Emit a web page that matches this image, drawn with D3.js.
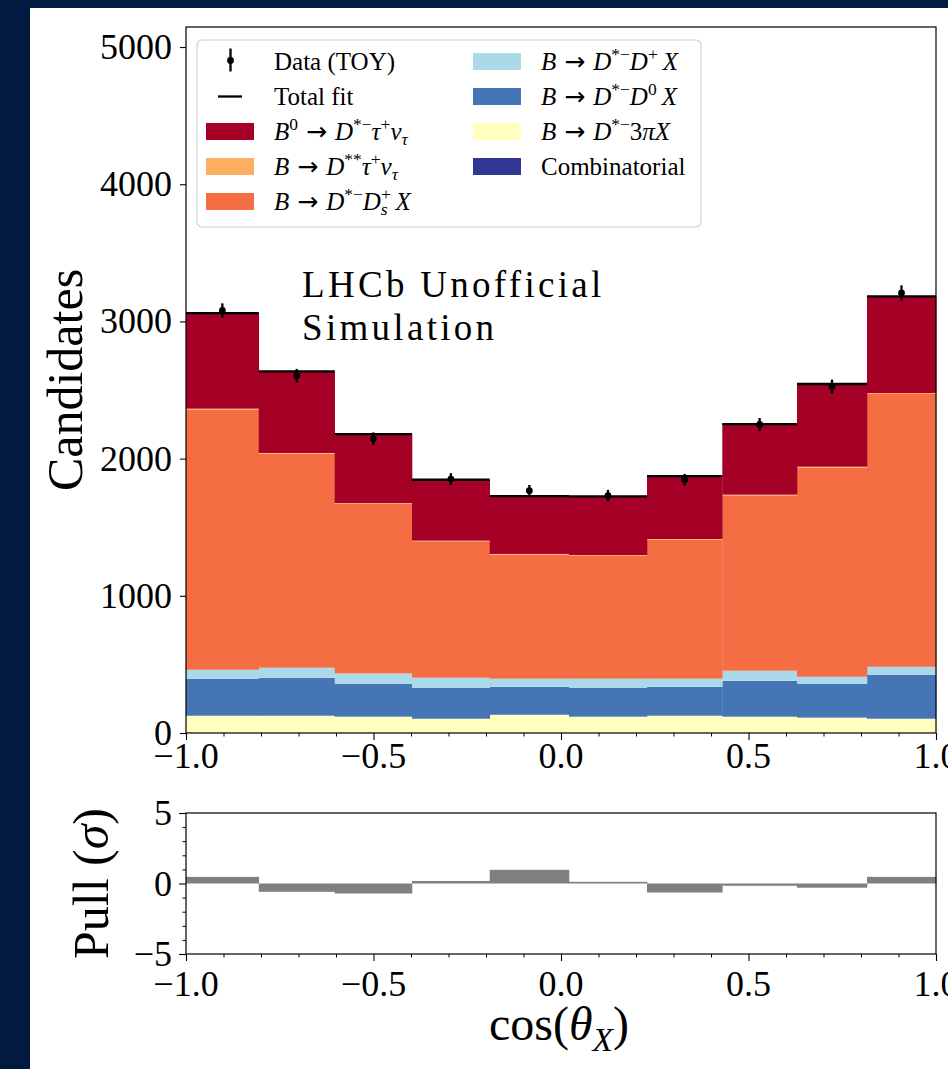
<!DOCTYPE html>
<html>
<head>
<meta charset="utf-8">
<script src="https://cdn.jsdelivr.net/npm/d3@7"></script>
<style>
  html, body { margin: 0; padding: 0; background: #031a40; overflow: hidden; }
  svg { display: block; }
  text { font-family: "Liberation Serif", "Times New Roman", serif; fill: #000; }
</style>
</head>
<body>
<svg id="chart" width="948" height="1069"></svg>
<script>
// Bin edges in cos(theta_X)
const binEdges = [-1.0, -0.806, -0.6035, -0.3973, -0.1901, 0.0213, 0.2293, 0.4301, 0.6293, 0.816, 1.0];

// Fit components per bin (stack order: bottom to top)
const combinatorial = [2, 2, 2, 2, 2, 2, 2, 2, 2, 2];
const dst3pi        = [124, 124, 117, 102, 131, 117, 124, 117, 110, 102];
const dstD0         = [270, 277, 240, 226, 204, 211, 211, 262, 247, 321];
const dstDplus      = [65, 73, 75, 73, 59, 66, 59, 73, 51, 58];
const dstDs         = [1897, 1560, 1237, 995, 905, 897, 1014, 1278, 1525, 1988];
const dssTauNu      = [6, 5, 5, 4, 4, 4, 4, 5, 6, 7];
const signal        = [697, 595, 503, 444, 422, 428, 459, 515, 603, 704];

// Toy data with uncertainties
const dataCounts = [3080, 2604, 2145, 1851, 1766, 1730, 1846, 2249, 2526, 3207];
const dataErrors = [52, 50, 46, 43, 42, 42, 43, 47, 50, 56];

// Pulls per bin
const pulls = [0.47, -0.59, -0.71, 0.18, 0.97, 0.12, -0.64, -0.16, -0.30, 0.47];

// Axis ticks
const xTicks = [-1.0, -0.5, 0.0, 0.5, 1.0];
const yTicks = [0, 1000, 2000, 3000, 4000, 5000];
const pullTicks = [-5, 0, 5];

const components = [
  { name: "combinatorial", values: combinatorial, color: "#313695" },
  { name: "dst3pi",        values: dst3pi,        color: "#ffffbf" },
  { name: "dstD0",         values: dstD0,         color: "#4575b4" },
  { name: "dstDplus",      values: dstDplus,      color: "#abd9e9" },
  { name: "dstDs",         values: dstDs,         color: "#f46d43" },
  { name: "dssTauNu",      values: dssTauNu,      color: "#fdae61" },
  { name: "signal",        values: signal,        color: "#a50026" }
];

const svg = d3.select("#chart");
const FONT = 36;

// white canvas
svg.append("rect").attr("x", 30).attr("y", 8).attr("width", 948 - 30).attr("height", 1069 - 8).attr("fill", "#ffffff");

const left = 186, right = 936;
const mainTop = 27, mainBottom = 733;
const pullTop = 813, pullBottom = 954;

const x = d3.scaleLinear().domain([-1, 1]).range([left, right]);
const y = d3.scaleLinear().domain([0, 5146]).range([mainBottom, mainTop]);
const yp = d3.scaleLinear().domain([-5, 5]).range([pullBottom, pullTop]);

const nBins = binEdges.length - 1;
const bins = d3.range(nBins).map(i => {
  const row = { i, x0: binEdges[i], x1: binEdges[i + 1] };
  components.forEach(c => row[c.name] = c.values[i]);
  return row;
});

// Stacked fit components
const stack = d3.stack().keys(components.map(c => c.name));
const layers = stack(bins);
const gStack = svg.append("g");
layers.forEach((layer, k) => {
  gStack.append("g").attr("fill", components[k].color)
    .selectAll("rect").data(layer).join("rect")
    .attr("x", d => x(d.data.x0))
    .attr("width", d => x(d.data.x1) - x(d.data.x0) + 0.3)
    .attr("y", d => y(d[1]))
    .attr("height", d => Math.max(0, y(d[0]) - y(d[1])));
});

// Total fit: horizontal segment on top of each bin
const totals = bins.map(b => components.reduce((s, c) => s + b[c.name], 0));
svg.append("g").selectAll("line").data(bins).join("line")
  .attr("x1", d => x(d.x0)).attr("x2", d => x(d.x1))
  .attr("y1", (d, i) => y(totals[i])).attr("y2", (d, i) => y(totals[i]))
  .attr("stroke", "#000").attr("stroke-width", 2.3);

// Data points with error bars
const gData = svg.append("g");
bins.forEach((b, i) => {
  const cx = x((b.x0 + b.x1) / 2);
  gData.append("line").attr("x1", cx).attr("x2", cx)
    .attr("y1", y(dataCounts[i] - dataErrors[i])).attr("y2", y(dataCounts[i] + dataErrors[i]))
    .attr("stroke", "#000").attr("stroke-width", 2.3);
  gData.append("circle").attr("cx", cx).attr("cy", y(dataCounts[i])).attr("r", 3.4).attr("fill", "#000");
});

// Main frame
svg.append("rect").attr("x", left).attr("y", mainTop).attr("width", right - left).attr("height", mainBottom - mainTop)
  .attr("fill", "none").attr("stroke", "#000").attr("stroke-width", 1.2);

const fmtX = v => (v < 0 ? "\u2212" : "") + Math.abs(v).toFixed(1);
const fmtInt = v => (v < 0 ? "\u2212" : "") + Math.abs(v);

// Main x axis ticks
const xAxisMain = d3.axisBottom(x).tickValues(xTicks).tickSize(7).tickFormat("");
svg.append("g").attr("transform", `translate(0,${mainBottom})`).call(xAxisMain)
  .call(g => g.select(".domain").remove())
  .call(g => g.selectAll("line").attr("stroke-width", 1.1));
const xMinor = d3.range(-10, 11).map(v => v / 10).filter(v => Math.abs(v * 2 - Math.round(v * 2)) > 1e-6);
const xAxisMinor = d3.axisBottom(x).tickValues(xMinor).tickSize(3.5).tickFormat("");
svg.append("g").attr("transform", `translate(0,${mainBottom})`).call(xAxisMinor)
  .call(g => g.select(".domain").remove())
  .call(g => g.selectAll("line").attr("stroke-width", 1));

svg.append("g").selectAll("text").data(xTicks).join("text")
  .attr("x", d => x(d)).attr("y", 768).attr("text-anchor", "middle")
  .attr("font-size", FONT).text(fmtX);

// Main y axis
const yAxis = d3.axisLeft(y).tickValues(yTicks).tickSize(6).tickFormat("");
svg.append("g").attr("transform", `translate(${left},0)`).call(yAxis)
  .call(g => g.select(".domain").remove())
  .call(g => g.selectAll("line").attr("stroke-width", 1.1));
svg.append("g").selectAll("text").data(yTicks).join("text")
  .attr("x", 172).attr("y", d => y(d) + 12).attr("text-anchor", "end")
  .attr("font-size", FONT).text(d => d);

svg.append("text").attr("transform", `translate(82,${(mainTop + mainBottom) / 2}) rotate(-90)`)
  .attr("text-anchor", "middle").attr("font-size", 50).text("Candidates");

// LHCb label
const lhcb = svg.append("text").attr("x", 302).attr("font-size", 37).attr("letter-spacing", 3.3);
lhcb.append("tspan").attr("x", 302).attr("y", 297).text("LHCb Unofficial");
lhcb.append("tspan").attr("x", 302).attr("y", 340).text("Simulation");

// Pull panel
svg.append("g").selectAll("rect").data(bins).join("rect")
  .attr("x", d => x(d.x0)).attr("width", d => x(d.x1) - x(d.x0) + 0.3)
  .attr("y", (d, i) => yp(Math.max(0, pulls[i])))
  .attr("height", (d, i) => Math.abs(yp(pulls[i]) - yp(0)))
  .attr("fill", "#808080");

svg.append("rect").attr("x", left).attr("y", pullTop).attr("width", right - left).attr("height", pullBottom - pullTop)
  .attr("fill", "none").attr("stroke", "#000").attr("stroke-width", 1.2);

svg.append("g").attr("transform", `translate(0,${pullBottom})`).call(d3.axisBottom(x).tickValues(xTicks).tickSize(7).tickFormat(""))
  .call(g => g.select(".domain").remove())
  .call(g => g.selectAll("line").attr("stroke-width", 1.1));
svg.append("g").attr("transform", `translate(0,${pullBottom})`).call(d3.axisBottom(x).tickValues(xMinor).tickSize(3.5).tickFormat(""))
  .call(g => g.select(".domain").remove())
  .call(g => g.selectAll("line").attr("stroke-width", 1));
svg.append("g").selectAll("text").data(xTicks).join("text")
  .attr("x", d => x(d)).attr("y", 996).attr("text-anchor", "middle")
  .attr("font-size", FONT).text(fmtX);

svg.append("g").attr("transform", `translate(${left},0)`).call(d3.axisLeft(yp).tickValues(pullTicks).tickSize(7).tickFormat(""))
  .call(g => g.select(".domain").remove())
  .call(g => g.selectAll("line").attr("stroke-width", 1.1));
const pullMinor = d3.range(-5, 6).filter(v => v % 5 !== 0);
svg.append("g").attr("transform", `translate(${left},0)`).call(d3.axisLeft(yp).tickValues(pullMinor).tickSize(3.5).tickFormat(""))
  .call(g => g.select(".domain").remove())
  .call(g => g.selectAll("line").attr("stroke-width", 1));
svg.append("g").selectAll("text").data(pullTicks).join("text")
  .attr("x", 172).attr("y", d => yp(d) + 12).attr("text-anchor", "end")
  .attr("font-size", FONT).text(fmtInt);

// Math-aware text helper: segments of {t, it, sup, sub, dx, family}
function mathText(sel, segs, size) {
  let shift = 0;
  segs.forEach(s => {
    const target = s.sup ? -0.38 * size : s.sub ? 0.22 * size : 0;
    const ts = sel.append("tspan").text(s.t)
      .attr("font-size", (s.sup || s.sub) ? size * 0.7 : size)
      .attr("dy", target - shift);
    if (s.it) ts.attr("font-style", "italic");
    if (s.dx) ts.attr("dx", s.dx);
    if (s.family) ts.attr("font-family", s.family);
    shift = target;
  });
}

const yPullLabel = svg.append("text").attr("transform", `translate(108,${(pullTop + pullBottom) / 2}) rotate(-90)`)
  .attr("text-anchor", "middle");
mathText(yPullLabel, [{ t: "Pull (" }, { t: "\u03c3", it: true }, { t: ")" }], 50);

const xLabel = svg.append("text").attr("x", 559).attr("y", 1040).attr("text-anchor", "middle");
mathText(xLabel, [{ t: "cos(" }, { t: "\u03b8", it: true }, { t: "X", it: true, sub: true }, { t: ")" }], 48);

// Legend
const LS = 25;
const legend = svg.append("g");
legend.append("rect").attr("x", 197).attr("y", 40).attr("width", 504).attr("height", 187)
  .attr("rx", 5).attr("fill", "#ffffff").attr("fill-opacity", 0.85)
  .attr("stroke", "#d0d0d0").attr("stroke-width", 1.2);

const arrow = { t: " \u2192 ", family: "DejaVu Sans" };
const th = { t: "\u2009" };
const legendItems = [
  { col: 0, row: 0, kind: "data", segs: [{ t: "Data (TOY)" }] },
  { col: 0, row: 1, kind: "line", segs: [{ t: "Total fit" }] },
  { col: 0, row: 2, color: "#a50026", segs: [{ t: "B", it: true }, { t: "0", sup: true }, arrow, { t: "D", it: true }, { t: "*\u2212", sup: true }, { t: "\u03c4", it: true }, { t: "+", sup: true }, { t: "\u03bd", it: true }, { t: "\u03c4", it: true, sub: true }] },
  { col: 0, row: 3, color: "#fdae61", segs: [{ t: "B", it: true }, arrow, { t: "D", it: true }, { t: "**", sup: true }, { t: "\u03c4", it: true }, { t: "+", sup: true }, { t: "\u03bd", it: true }, { t: "\u03c4", it: true, sub: true }] },
  { col: 0, row: 4, color: "#f46d43", segs: [{ t: "B", it: true }, arrow, { t: "D", it: true }, { t: "*\u2212", sup: true }, { t: "D", it: true }, { t: "+", sup: true }, { t: "s", it: true, sub: true, dx: -10 }, { t: "\u2009X", it: true, dx: 3 }] },
  { col: 1, row: 0, color: "#abd9e9", segs: [{ t: "B", it: true }, arrow, { t: "D", it: true }, { t: "*\u2212", sup: true }, { t: "D", it: true }, { t: "+", sup: true }, th, { t: "X", it: true }] },
  { col: 1, row: 1, color: "#4575b4", segs: [{ t: "B", it: true }, arrow, { t: "D", it: true }, { t: "*\u2212", sup: true }, { t: "D", it: true }, { t: "0", sup: true }, th, { t: "X", it: true }] },
  { col: 1, row: 2, color: "#ffffbf", segs: [{ t: "B", it: true }, arrow, { t: "D", it: true }, { t: "*\u2212", sup: true }, { t: "3" }, { t: "\u03c0", it: true }, { t: "X", it: true }] },
  { col: 1, row: 3, color: "#313695", segs: [{ t: "Combinatorial" }] }
];
const colHandleX = [206, 473];
const colTextX = [274, 541];
legendItems.forEach(it => {
  const cy = 61.5 + it.row * 35;
  const hx = colHandleX[it.col];
  if (it.kind === "data") {
    legend.append("line").attr("x1", hx + 24.5).attr("x2", hx + 24.5).attr("y1", cy - 13).attr("y2", cy + 10)
      .attr("stroke", "#000").attr("stroke-width", 2.3);
    legend.append("circle").attr("cx", hx + 24.5).attr("cy", cy - 1).attr("r", 3.4).attr("fill", "#000");
  } else if (it.kind === "line") {
    legend.append("line").attr("x1", hx + 12).attr("x2", hx + 36).attr("y1", cy).attr("y2", cy)
      .attr("stroke", "#000").attr("stroke-width", 2.3);
  } else {
    legend.append("rect").attr("x", hx).attr("y", cy - 8.5).attr("width", 48).attr("height", 17).attr("fill", it.color);
  }
  const t = legend.append("text").attr("x", colTextX[it.col]).attr("y", cy + 8);
  mathText(t, it.segs, LS);
});
</script>
</body>
</html>
